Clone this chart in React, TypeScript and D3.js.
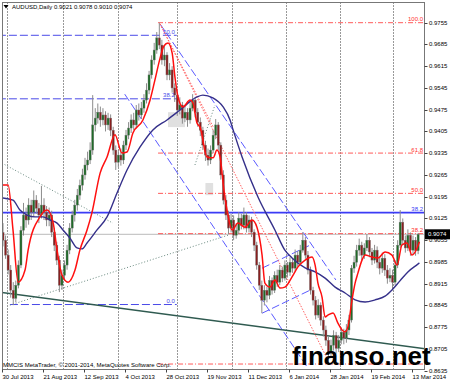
import React from 'react';
import * as d3 from 'd3';

const W = 450;
const H = 385;
const PL = 2.5, PT = 2.5, PR = 424.5, PB = 369.5;

const dateLabels = ['30 Jul 2013', '21 Aug 2013', '12 Sep 2013', '4 Oct 2013', '28 Oct 2013', '19 Nov 2013', '11 Dec 2013', '6 Jan 2014', '28 Jan 2014', '19 Feb 2014', '13 Mar 2014'];
const dateTickBars = [0, 16, 32, 48, 64, 80, 96, 112, 128, 144, 160];
const priceTicks = [0.9755, 0.9685, 0.9615, 0.9545, 0.9475, 0.9405, 0.9335, 0.9265, 0.9195, 0.9125, 0.9055, 0.8985, 0.8915, 0.8845, 0.8775, 0.8705, 0.8635];
const gridBars = [1.6, 23.4, 44.9, 67.9, 89.4, 110.4, 131.5, 152.2];

const opens = [0.9080,0.9055,0.9007,0.8959,0.8894,0.8868,0.8910,0.8975,0.9087,0.9136,0.9120,0.9168,0.9145,0.9184,0.9158,0.9136,0.9168,0.9145,0.9120,0.9136,0.9081,0.9039,0.8991,0.8910,0.8942,0.8975,0.9023,0.9094,0.9136,0.9168,0.9200,0.9232,0.9265,0.9297,0.9313,0.9345,0.9426,0.9448,0.9467,0.9442,0.9458,0.9426,0.9448,0.9409,0.9345,0.9306,0.9329,0.9313,0.9361,0.9393,0.9416,0.9442,0.9426,0.9474,0.9458,0.9480,0.9506,0.9538,0.9587,0.9635,0.9667,0.9706,0.9683,0.9635,0.9651,0.9587,0.9603,0.9545,0.9522,0.9474,0.9490,0.9448,0.9467,0.9442,0.9480,0.9506,0.9467,0.9435,0.9409,0.9361,0.9329,0.9313,0.9345,0.9393,0.9426,0.9361,0.9265,0.9184,0.9136,0.9094,0.9120,0.9071,0.9087,0.9126,0.9103,0.9136,0.9094,0.9120,0.9081,0.9039,0.8975,0.8910,0.8862,0.8894,0.8878,0.8926,0.8894,0.8942,0.8920,0.8959,0.8933,0.8975,0.8952,0.8984,0.8965,0.9007,0.8984,0.9023,0.9055,0.9007,0.8959,0.8894,0.8862,0.8814,0.8846,0.8798,0.8766,0.8733,0.8695,0.8717,0.8749,0.8707,0.8733,0.8759,0.8740,0.8766,0.8798,0.8965,0.8984,0.9023,0.9039,0.9007,0.9030,0.9055,0.9017,0.8991,0.9023,0.8984,0.8965,0.8997,0.8959,0.8933,0.8942,0.8920,0.8975,0.9039,0.9113,0.9055,0.9030,0.9071,0.9023,0.9055,0.9021];
const highs = [0.9110,0.9070,0.9025,0.8975,0.8920,0.8925,0.8990,0.9100,0.9175,0.9160,0.9190,0.9185,0.9215,0.9200,0.9175,0.9230,0.9190,0.9165,0.9160,0.9150,0.9095,0.9050,0.9005,0.8960,0.8990,0.9040,0.9110,0.9150,0.9185,0.9220,0.9250,0.9285,0.9320,0.9340,0.9370,0.9522,0.9480,0.9495,0.9485,0.9480,0.9470,0.9465,0.9460,0.9420,0.9360,0.9345,0.9350,0.9375,0.9410,0.9435,0.9460,0.9465,0.9490,0.9495,0.9500,0.9525,0.9560,0.9600,0.9650,0.9690,0.9725,0.9755,0.9700,0.9680,0.9660,0.9625,0.9615,0.9560,0.9535,0.9515,0.9500,0.9490,0.9480,0.9500,0.9525,0.9515,0.9480,0.9450,0.9420,0.9375,0.9350,0.9360,0.9410,0.9445,0.9435,0.9370,0.9280,0.9200,0.9150,0.9140,0.9135,0.9110,0.9145,0.9140,0.9160,0.9145,0.9135,0.9130,0.9090,0.9050,0.8985,0.8925,0.8910,0.8905,0.8940,0.8935,0.8955,0.8960,0.8975,0.8970,0.8990,0.8985,0.9000,0.8995,0.9025,0.9020,0.9040,0.9081,0.9065,0.9020,0.8970,0.8905,0.8875,0.8865,0.8855,0.8810,0.8780,0.8745,0.8735,0.8765,0.8760,0.8750,0.8775,0.8770,0.8785,0.8815,0.8975,0.9005,0.9040,0.9060,0.9050,0.9045,0.9075,0.9065,0.9030,0.9040,0.9035,0.9000,0.9015,0.9010,0.8975,0.8965,0.8960,0.8990,0.9055,0.9152,0.9125,0.9070,0.9090,0.9080,0.9070,0.9065,0.9078];
const lows = [0.9035,0.8995,0.8945,0.8870,0.8846,0.8855,0.8900,0.8965,0.9070,0.9095,0.9105,0.9120,0.9130,0.9140,0.9110,0.9125,0.9120,0.9100,0.9100,0.9065,0.9020,0.8975,0.8888,0.8895,0.8925,0.8960,0.9010,0.9080,0.9115,0.9150,0.9185,0.9215,0.9250,0.9280,0.9300,0.9330,0.9405,0.9430,0.9420,0.9425,0.9405,0.9410,0.9390,0.9330,0.9281,0.9290,0.9295,0.9300,0.9345,0.9380,0.9400,0.9410,0.9415,0.9440,0.9445,0.9465,0.9495,0.9525,0.9575,0.9620,0.9655,0.9670,0.9620,0.9615,0.9570,0.9570,0.9530,0.9500,0.9455,0.9460,0.9430,0.9435,0.9420,0.9430,0.9470,0.9450,0.9420,0.9390,0.9345,0.9310,0.9295,0.9300,0.9335,0.9380,0.9345,0.9250,0.9170,0.9120,0.9075,0.9080,0.9055,0.9060,0.9075,0.9090,0.9090,0.9080,0.9080,0.9065,0.9020,0.8960,0.8895,0.8820,0.8845,0.8855,0.8865,0.8880,0.8885,0.8905,0.8910,0.8920,0.8925,0.8935,0.8940,0.8950,0.8955,0.8970,0.8975,0.9015,0.8995,0.8945,0.8880,0.8845,0.8800,0.8805,0.8780,0.8745,0.8715,0.8660,0.8680,0.8700,0.8690,0.8695,0.8720,0.8720,0.8725,0.8750,0.8790,0.8950,0.8970,0.9005,0.8990,0.8995,0.9020,0.9000,0.8975,0.8980,0.8965,0.8945,0.8950,0.8940,0.8915,0.8920,0.8894,0.8910,0.8965,0.9030,0.9040,0.9015,0.9020,0.9005,0.9010,0.9005,0.9010];
const closes = [0.9055,0.9007,0.8959,0.8894,0.8868,0.8910,0.8975,0.9087,0.9136,0.9120,0.9168,0.9145,0.9184,0.9158,0.9136,0.9168,0.9145,0.9120,0.9136,0.9081,0.9039,0.8991,0.8910,0.8942,0.8975,0.9023,0.9094,0.9136,0.9168,0.9200,0.9232,0.9265,0.9297,0.9313,0.9345,0.9426,0.9448,0.9467,0.9442,0.9458,0.9426,0.9448,0.9409,0.9345,0.9306,0.9329,0.9313,0.9361,0.9393,0.9416,0.9442,0.9426,0.9474,0.9458,0.9480,0.9506,0.9538,0.9587,0.9635,0.9667,0.9706,0.9683,0.9635,0.9651,0.9587,0.9603,0.9545,0.9522,0.9474,0.9490,0.9448,0.9467,0.9442,0.9480,0.9506,0.9467,0.9435,0.9409,0.9361,0.9329,0.9313,0.9345,0.9393,0.9426,0.9361,0.9265,0.9184,0.9136,0.9094,0.9120,0.9071,0.9087,0.9126,0.9103,0.9136,0.9094,0.9120,0.9081,0.9039,0.8975,0.8910,0.8862,0.8894,0.8878,0.8926,0.8894,0.8942,0.8920,0.8959,0.8933,0.8975,0.8952,0.8984,0.8965,0.9007,0.8984,0.9023,0.9055,0.9007,0.8959,0.8894,0.8862,0.8814,0.8846,0.8798,0.8766,0.8733,0.8695,0.8717,0.8749,0.8707,0.8733,0.8759,0.8740,0.8766,0.8798,0.8965,0.8984,0.9023,0.9039,0.9007,0.9030,0.9055,0.9017,0.8991,0.9023,0.8984,0.8965,0.8997,0.8959,0.8933,0.8942,0.8920,0.8975,0.9039,0.9113,0.9055,0.9030,0.9071,0.9023,0.9055,0.9021,0.9074];

// [bar, price] read from the red (fast) moving average
const fastMA: [number, number][] = [[0,0.9233],[2,0.9233],[3.9,0.9088],[5.9,0.8920],[8.6,0.8959],[9.8,0.9023],[14.4,0.9130],[17.2,0.9152],[19.5,0.9114],[21.1,0.9023],[23,0.8943],[25.4,0.8920],[28.1,0.8959],[30,0.9023],[32.8,0.9088],[34.7,0.9143],[37.9,0.9271],[40.6,0.9323],[43.7,0.9394],[46.4,0.9336],[48.4,0.9339],[50.7,0.9400],[54.6,0.9442],[57.4,0.9506],[59.3,0.9571],[61.3,0.9641],[62.8,0.9680],[64.4,0.9690],[66,0.9658],[67.1,0.9580],[68.3,0.9516],[70.2,0.9484],[73,0.9506],[74.1,0.9497],[75.7,0.9432],[76.9,0.9419],[79.6,0.9323],[82,0.9320],[83.5,0.9345],[84.7,0.9323],[86.2,0.9217],[87.8,0.9136],[89.4,0.9088],[91.7,0.9110],[94.4,0.9097],[97.2,0.9120],[99.1,0.9097],[101.1,0.9007],[102.2,0.8917],[104.2,0.8904],[106.1,0.8927],[108.1,0.8901],[110,0.8904],[112.8,0.8937],[115.1,0.8969],[117.9,0.8991],[120.6,0.9001],[121.8,0.8975],[122.9,0.8917],[124.5,0.8872],[125.7,0.8808],[126.8,0.8814],[128.8,0.8821],[130.7,0.8788],[132.3,0.8766],[133.5,0.8760],[134.6,0.8776],[136.2,0.8863],[137.4,0.8917],[138.5,0.8949],[140.1,0.8991],[141.3,0.9007],[144,0.9001],[146.3,0.8998],[149.1,0.9017],[151.8,0.9007],[153.8,0.8975],[155.7,0.9040],[157.7,0.9046],[159.6,0.9007],[161.6,0.9030],[162.5,0.9050]];
// [bar, price] read from the dark blue (slow) moving average
const slowMA: [number, number][] = [[0,0.9191],[3.9,0.9184],[6.6,0.9152],[9.4,0.9136],[12.5,0.9130],[15.6,0.9130],[18.3,0.9120],[21.1,0.9110],[23.4,0.9088],[26.1,0.9062],[28.9,0.9030],[30.8,0.9027],[32.8,0.9046],[36.7,0.9088],[40.6,0.9130],[44.5,0.9207],[48.4,0.9281],[53.5,0.9355],[58.5,0.9410],[64,0.9442],[69.1,0.9474],[75.7,0.9516],[78,0.9522],[81.9,0.9513],[85.9,0.9484],[88.6,0.9442],[89.8,0.9410],[93.3,0.9323],[99.5,0.9194],[106.1,0.9088],[110,0.9023],[112.8,0.8998],[117.9,0.8966],[121.8,0.8953],[125.7,0.8933],[129.6,0.8904],[133.5,0.8885],[137.4,0.8863],[141.3,0.8856],[145.2,0.8863],[149.1,0.8875],[151.8,0.8895],[154.9,0.8924],[158,0.8953],[161.9,0.8978],[162.5,0.8982]];

// Red fibonacci (high 0.9755 on bar 61, low 0.86565)
const redFiboLevels = [0, 38.2, 50, 61.8, 100];
const redFiboLow = 0.86565, redFiboHigh = 0.9755, redFiboStart = 60.5;
// Blue fibonacci (earlier swing)
const blueFiboLevels = [0, 38.2, 50];
const blueFiboLow = 0.8848, blueFiboHigh = 1.0581, blueFiboStarts = [2.7, -2, -2], blueFiboEnd = 67.8;
const blueLevel = 0.91435;
const lastPrice = 0.9074;

// trendlines [bar1, price1, bar2, price2]
const tealLine = [0, 0.88863, 160, 0.8711];
const grayDotDown = [-0.4, 0.9303, 42.9, 0.9110];
const grayDotUp = [2.7, 0.8846, 87.8, 0.9071];
const grayDotSteep = [74.9, 0.9297, 82.7, 0.9490];
const channelUpper = [61.3, 0.9751, 129.9, 0.8927];
const channelLower = [47.5, 0.9525, 119, 0.8643];
const smallUpper = [101.1, 0.8965, 119.8, 0.9039];
const smallLower = [101.1, 0.8820, 119.8, 0.8894];
const redDotted = [61.3, 0.9751, 126.8, 0.8669];
const redDotted2 = [61.3, 0.9751, 82.0, 0.9420];
// gray boxes [bar1, bar2, priceTop, priceBottom]
const grayBoxes = [[64.4, 71.0, 0.9467, 0.9419], [79.0, 82.0, 0.9239, 0.9200]];

const FONT = '"Liberation Sans", Arial, sans-serif';

export default function App() {
  const x = d3.scaleLinear().domain([0, 160]).range([3, 413]);
  const y = d3.scaleLinear().domain([0.8635, 0.9755]).range([370.7, 22.7]);
  const bw = 2.1;

  const maLine = d3.line<[number, number]>().x(d => x(d[0])).y(d => y(d[1])).curve(d3.curveMonotoneX);

  const seg = (l: number[], extend = false) => {
    const [b1, p1, b2, p2] = l;
    if (extend) {
      const s = (p2 - p1) / (b2 - b1);
      const nb1 = -3, nb2 = 168;
      return { x1: x(nb1), y1: y(p1 + s * (nb1 - b1)), x2: x(nb2), y2: y(p1 + s * (nb2 - b1)) };
    }
    return { x1: x(b1), y1: y(p1), x2: x(b2), y2: y(p2) };
  };

  const redFibo = redFiboLevels.map(lv => ({ lv, p: redFiboLow + (redFiboHigh - redFiboLow) * lv / 100 }));
  const blueFibo = blueFiboLevels.map((lv, k) => ({ lv, p: blueFiboLow + (blueFiboHigh - blueFiboLow) * lv / 100, start: blueFiboStarts[k] }));

  return (
    <svg width={W} height={H} style={{ display: 'block', position: 'absolute', left: 0, top: 0, background: '#fff' }}>
      <defs>
        <clipPath id="plot"><rect x={PL} y={PT} width={PR - PL} height={PB - PT} /></clipPath>
      </defs>
      <rect x={0} y={0} width={W} height={H} fill="#fff" />
      <g clipPath="url(#plot)">
        {gridBars.map((b, k) => (
          <line key={k} x1={Math.round(x(b)) + 0.5} x2={Math.round(x(b)) + 0.5} y1={PT} y2={PB} stroke="#333" strokeDasharray="1,2" strokeWidth={1} />
        ))}
        {grayBoxes.map((g, k) => (
          <rect key={k} x={x(g[0])} y={y(g[2])} width={x(g[1]) - x(g[0])} height={y(g[3]) - y(g[2])} fill="#e0e0e0" />
        ))}
        <line x1={PL} x2={PR} y1={y(lastPrice)} y2={y(lastPrice)} stroke="#c8c8c8" strokeWidth={1.2} />
        <line x1={PL} x2={PR} y1={y(blueLevel)} y2={y(blueLevel)} stroke="#3b3bf5" strokeWidth={1.8} />
        {redFibo.map(f => (
          <line key={f.lv} x1={x(redFiboStart)} x2={PR} y1={y(f.p)} y2={y(f.p)} stroke="#ff5a5a" strokeWidth={1} strokeDasharray="5,2,1,2" />
        ))}
        {blueFibo.map(f => (
          <line key={f.lv} x1={x(f.start)} x2={x(blueFiboEnd)} y1={y(f.p)} y2={y(f.p)} stroke="#4a4ae8" strokeWidth={1} strokeDasharray="8,3" />
        ))}
        <line {...seg(tealLine, true)} stroke="#2f5a50" strokeWidth={1.4} />
        <line {...seg(grayDotDown)} stroke="#6a8a80" strokeWidth={1} strokeDasharray="1,2" />
        <line {...seg(grayDotUp)} stroke="#6a8a80" strokeWidth={1} strokeDasharray="1,2" />
        <line {...seg(grayDotSteep)} stroke="#6a8a80" strokeWidth={1} strokeDasharray="1,2" />
        <line {...seg(channelUpper)} stroke="#5a5aff" strokeWidth={1} strokeDasharray="8,3" />
        <line {...seg(channelLower)} stroke="#5a5aff" strokeWidth={1} strokeDasharray="8,3" />
        <line {...seg(smallUpper)} stroke="#5a5aff" strokeWidth={1} strokeDasharray="8,3" />
        <line {...seg(smallLower)} stroke="#5a5aff" strokeWidth={1} strokeDasharray="8,3" />
        <line {...seg(redDotted)} stroke="#ff6060" strokeWidth={1} strokeDasharray="1.5,1.5" />
        <line {...seg(redDotted2)} stroke="#ff6060" strokeWidth={1} strokeDasharray="1.5,1.5" />
        {closes.map((c, i) => {
          const o = opens[i];
          const up = c >= o;
          const cx = x(i);
          const top = y(Math.max(o, c));
          const bot = y(Math.min(o, c));
          return (
            <g key={i}>
              <line x1={cx} x2={cx} y1={y(highs[i])} y2={y(lows[i])} stroke="#8c8c8c" strokeWidth={1} />
              <rect x={cx - bw / 2} y={top} width={bw} height={Math.max(0.8, bot - top)} fill={up ? '#1f6b28' : '#8a1f1f'} stroke="#777" strokeWidth={0.4} />
            </g>
          );
        })}
        <path d={maLine(slowMA) || ''} fill="none" stroke="#35308a" strokeWidth={1.4} />
        <path d={maLine(fastMA) || ''} fill="none" stroke="#ff1010" strokeWidth={1.5} />
      </g>
      {redFibo.filter(f => f.lv > 0).map(f => (
        <text key={f.lv} x={423} y={y(f.p) - 1.5} fontFamily={FONT} fontSize={6} fill="#ff3030" textAnchor="end">{f.lv.toFixed(1)}</text>
      ))}
      <text x={423} y={y(blueLevel) - 1.5} fontFamily={FONT} fontSize={6} fill="#3b3bf5" textAnchor="end">38.2</text>
      {blueFibo.map(f => (
        <text key={f.lv} x={x(blueFiboEnd) - 2} y={y(f.p) - 1.5} fontFamily={FONT} fontSize={6} fill="#4a4ae8" textAnchor="end">{f.lv.toFixed(1)}</text>
      ))}
      <rect x={PL} y={PT} width={PR - PL} height={PB - PT} fill="none" stroke="#777" strokeWidth={1} />
      <path d="M3.5,5 L8.5,5 L6,8.5 Z" fill="#000" />
      <text x={12} y={9} fontFamily={FONT} fontSize={6} fill="#000">AUDUSD,Daily  0.9021 0.9078 0.9010 0.9074</text>
      <text x={3} y={367} fontFamily={FONT} fontSize={6} fill="#000">MMCIS MetaTrader, © 2001-2014, MetaQuotes Software Corp.</text>
      {priceTicks.map(p => (
        <g key={p}>
          <line x1={PR} x2={PR + 3} y1={Math.round(y(p)) + 0.5} y2={Math.round(y(p)) + 0.5} stroke="#444" />
          <text x={429} y={y(p) + 2} fontFamily={FONT} fontSize={6} fill="#000">{p.toFixed(4)}</text>
        </g>
      ))}
      <rect x={425} y={y(lastPrice) - 5} width={25} height={10} fill="#000" />
      <text x={428} y={y(lastPrice) + 2} fontFamily={FONT} fontSize={6} fill="#fff">{lastPrice.toFixed(4)}</text>
      {dateTickBars.map((b, k) => (
        <g key={b}>
          <line x1={Math.round(x(b)) - 0.5} x2={Math.round(x(b)) - 0.5} y1={PB} y2={PB + 3} stroke="#444" />
          <text x={x(b) - 0.5} y={379} fontFamily={FONT} fontSize={6} fill="#000">{dateLabels[k]}</text>
        </g>
      ))}
      <text x={292} y={365} fontFamily={FONT} fontSize={26} fontWeight="bold" fill="#000">finanso.net</text>
    </svg>
  );
}
